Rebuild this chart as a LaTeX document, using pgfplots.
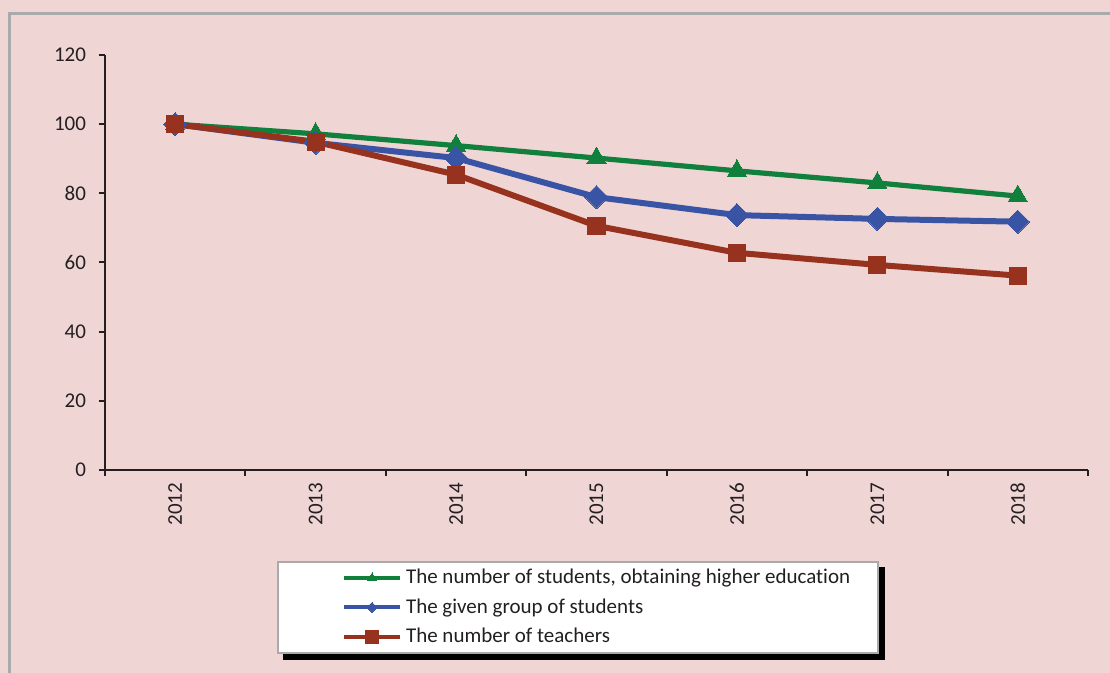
\documentclass[border=0pt]{standalone}
\usepackage{pgfplots}
\pgfplotsset{compat=1.18}
\usetikzlibrary{calc}
\usepackage{fontspec}
\setmainfont{Carlito}[Ligatures={NoCommon,NoRequired,NoContextual}]
\definecolor{bg}{RGB}{240,213,213}
\definecolor{frame}{RGB}{170,170,170}
\definecolor{sgreen}{RGB}{16,128,60}
\definecolor{sblue}{RGB}{58,84,165}
\definecolor{sred}{RGB}{150,50,30}
\definecolor{txt}{RGB}{35,31,32}
\pgfdeclarelayer{bglayer}
\pgfdeclarelayer{shadowlayer}
\pgfsetlayers{bglayer,shadowlayer,main}
\begin{document}
\begin{tikzpicture}
\begin{pgfonlayer}{bglayer}
\fill[bg] (0,0) rectangle (555pt,336.5pt);
\end{pgfonlayer}
\useasboundingbox (0,0) rectangle (555pt,336.5pt);
\draw[frame,line width=1.5pt] (4.5pt,-2pt) -- (4.5pt,329.5pt) -- (557pt,329.5pt);
\begin{axis}[
  at={(52.5pt,101.5pt)}, anchor=south west,
  scale only axis, width=491.5pt, height=207.5pt,
  xmin=-0.5, xmax=6.5, ymin=0, ymax=120,
  clip=false,
  axis lines*=left,
  axis line style={-, txt, line width=1pt},
  xtick={0,...,6},
  xticklabels={2012,2013,2014,2015,2016,2017,2018},
  minor xtick={-0.5,0.5,...,6.5},
  ytick={0,20,...,120},
  tick align=outside,
  major tick length=3pt,
  minor tick length=3pt,
  major x tick style={draw=none},
  minor x tick style={txt, line width=1pt},
  major y tick style={txt, line width=1pt},
  yticklabel style={font=\fontsize{10.5}{12}\selectfont, text=txt, xshift=-3pt, /pgf/number format/assume math mode=true},
  xticklabel style={font=\fontsize{10.5}{12}\selectfont, text=txt, rotate=90, anchor=east},
  legend style={name=leg, at={(axis description cs:0.175,-0.2193)}, anchor=north west,
    draw=frame, line width=1pt, fill=white,
    font=\fontsize{10.5}{12}\selectfont, text=txt,
    inner xsep=12pt, inner ysep=1.5pt, row sep=2pt},
  legend cell align=left,
  legend image code/.code={%
    \pgfpathmoveto{\pgfpoint{-21pt}{0pt}}\pgfpathlineto{\pgfpoint{0pt}{0pt}}\pgfusepath{discard}%
    \draw[mark repeat=2,mark phase=2,#1] plot coordinates {(0pt,0pt) (14pt,0pt) (28pt,0pt)};},
]
\addplot[sgreen, line width=2.6pt, mark=triangle*, mark size=5.5pt, mark options={solid, line width=0pt},
  legend image post style={line width=2pt, mark size=2.4pt}]
 coordinates {(0,100) (1,97.2) (2,93.8) (3,90.2) (4,86.5) (5,83.0) (6,79.2)};
\addlegendentry{The number of students, obtaining higher education}
\addplot[sblue, line width=3pt, mark=square*, mark size=4.1pt, mark options={solid, line width=0pt, rotate=45},
  legend image post style={line width=2pt, mark size=1.8pt}]
 coordinates {(0,100) (1,94.6) (2,90.2) (3,78.9) (4,73.7) (5,72.6) (6,71.8)};
\addlegendentry{The given group of students}
\addplot[sred, line width=3pt, mark=square*, mark size=4.3pt, mark options={solid, line width=0pt},
  legend image post style={line width=2pt, mark size=3.1pt}]
 coordinates {(0,100) (1,94.9) (2,85.4) (3,70.6) (4,62.8) (5,59.3) (6,56.2)};
\addlegendentry{The number of teachers}
\end{axis}
\begin{pgfonlayer}{shadowlayer}
\fill[black] ($(leg.south west)+(3pt,-3pt)$) rectangle ($(leg.north east)+(3pt,-3pt)$);
\end{pgfonlayer}
\end{tikzpicture}
\end{document}
